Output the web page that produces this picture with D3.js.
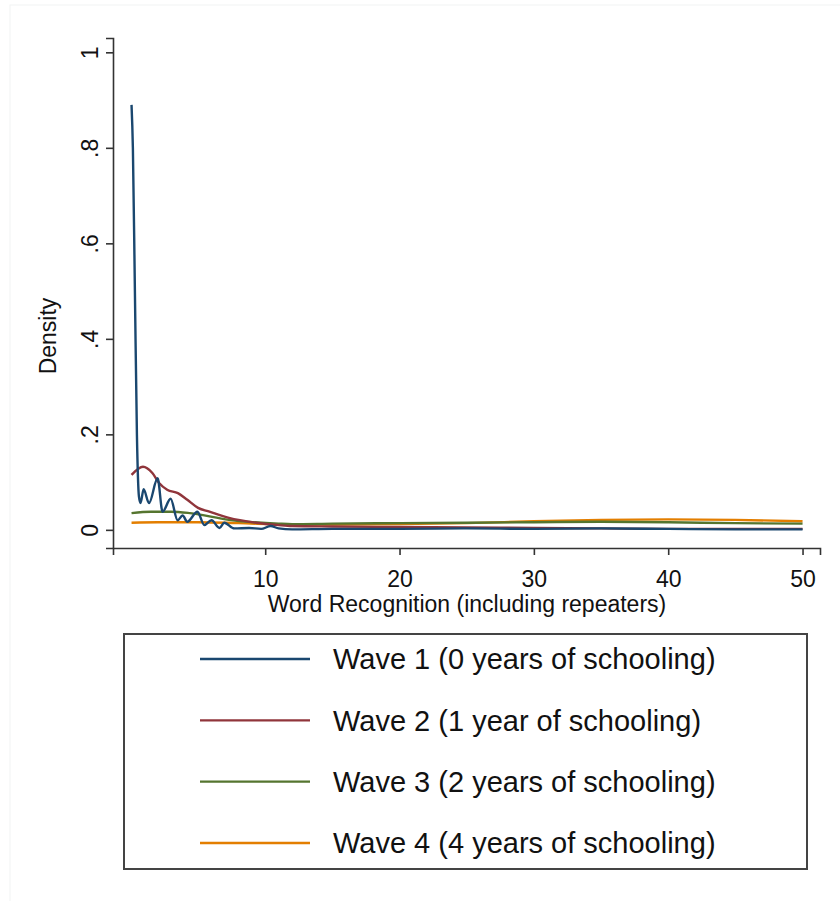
<!DOCTYPE html>
<html><head><meta charset="utf-8">
<script src="https://cdn.jsdelivr.net/npm/d3@7/dist/d3.min.js"></script>
<style>body{margin:0;background:#fff}svg{display:block}text{font-family:"Liberation Sans",Arial,sans-serif;fill:#111}</style>
</head><body><svg id="c" width="840" height="901"></svg>
<script>
const seriesNames = ["Wave 1 (0 years of schooling)","Wave 2 (1 year of schooling)","Wave 3 (2 years of schooling)","Wave 4 (4 years of schooling)"];
const seriesColors = ["#1a476f","#90353b","#55752f","#e37e00"];
const xTicks = [10,20,30,40,50];
const yTicks = [0,0.2,0.4,0.6,0.8,1];
const yTickLabels = ["0",".2",".4",".6",".8","1"];
const xTitle = "Word Recognition (including repeaters)";
const yTitle = "Density";
// [x, density]
const wave1 = [[0.05,0.89],[0.15,0.80],[0.3,0.5],[0.45,0.2],[0.6,0.07],[0.72,0.056],[0.95,0.085],[1.35,0.056],[1.99,0.108],[2.36,0.038],[2.96,0.065],[3.48,0.02],[3.85,0.03],[4.2,0.017],[4.95,0.038],[5.47,0.01],[6.0,0.02],[6.6,0.004],[6.95,0.015],[7.7,0.003],[8.8,0.004],[9.7,0.002],[10.4,0.008],[11,0.003],[12,0.001],[15,0.002],[20,0.002],[25,0.003],[30,0.002],[35,0.003],[40,0.002],[45,0.001],[50,0.001]];
const wave2 = [[0.05,0.115],[0.9,0.132],[1.6,0.119],[2.1,0.098],[2.7,0.084],[3.5,0.077],[4.2,0.063],[5.0,0.046],[5.85,0.038],[7.3,0.025],[9.3,0.015],[11,0.01],[12,0.008],[15,0.007],[20,0.006],[25,0.005],[30,0.004],[35,0.003],[40,0.002],[45,0.002],[50,0.002]];
const wave3 = [[0.05,0.035],[1.5,0.038],[3,0.038],[4.4,0.035],[7.3,0.021],[11,0.013],[12,0.012],[15,0.013],[20,0.014],[25,0.015],[30,0.016],[35,0.017],[40,0.016],[45,0.014],[50,0.013]];
const wave4 = [[0.05,0.015],[2,0.016],[5,0.016],[8,0.014],[12,0.011],[15,0.011],[20,0.012],[25,0.014],[30,0.018],[35,0.021],[40,0.022],[45,0.021],[50,0.018]];
const allSeries = [wave1,wave2,wave3,wave4];

const FONT = '"Liberation Sans",Arial,sans-serif';
const svg = d3.select("#c");
svg.append("rect").attr("x",10).attr("y",5).attr("width",840).attr("height",901).attr("fill","none").attr("stroke","#f2f4f4").attr("stroke-width",1);

const x = d3.scaleLinear().domain([-1.33,51.3]).range([113,820]);
const y = d3.scaleLinear().domain([-0.038,1.03]).range([548,38]);

// axes
const xa = svg.append("g").attr("transform","translate(0,548)")
  .call(d3.axisBottom(x).tickValues(xTicks).tickSize(7).tickPadding(16).tickFormat(d3.format("d")));
const ya = svg.append("g").attr("transform","translate(113,0)")
  .call(d3.axisLeft(y).tickValues(yTicks).tickSize(7).tickFormat((d,i)=>yTickLabels[i]));
[xa,ya].forEach(g=>{
  g.attr("font-size",null).attr("font-family",null);
  g.select(".domain").attr("stroke","#333").attr("stroke-width",1.6);
  g.selectAll(".tick line").attr("stroke","#333").attr("stroke-width",1.6);
  g.selectAll(".tick text").style("font-size","23px").style("font-family",FONT).attr("fill","#111");
});
ya.selectAll(".tick text")
  .attr("x",null).attr("dy",null).attr("text-anchor","middle")
  .attr("transform","translate(-15,0) rotate(-90)");

svg.append("text").attr("x",467).attr("y",612).attr("text-anchor","middle").style("font-size","23px").text(xTitle);
svg.append("text").attr("transform","translate(56,336) rotate(-90)").attr("text-anchor","middle").style("font-size","23px").text(yTitle);

const line = d3.line().x(d=>x(d[0])).y(d=>y(d[1])).curve(d3.curveMonotoneX);
allSeries.slice().reverse().forEach((s,i)=>{
  const idx = 3-i;
  svg.append("path").datum(s).attr("d",line).attr("fill","none")
    .attr("stroke",seriesColors[idx]).attr("stroke-width",2.4).attr("stroke-linejoin","round");
});

// legend
svg.append("rect").attr("x",124).attr("y",634).attr("width",683).attr("height",235)
  .attr("fill","#fff").attr("stroke","#444").attr("stroke-width",2);
const rowY = d3.scalePoint().domain(d3.range(4)).range([659,843]);
seriesNames.forEach((n,i)=>{
  svg.append("line").attr("x1",200).attr("x2",310).attr("y1",rowY(i)).attr("y2",rowY(i))
    .attr("stroke",seriesColors[i]).attr("stroke-width",2.4);
  svg.append("text").attr("x",333).attr("y",rowY(i)).attr("dy","0.36em").style("font-size","29px").text(n);
});
</script></body></html>
